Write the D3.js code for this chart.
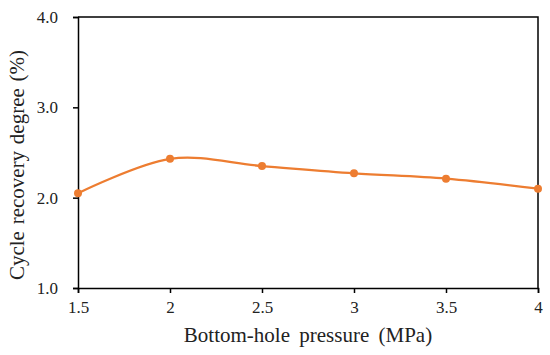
<!DOCTYPE html>
<html>
<head>
<meta charset="utf-8">
<script src="https://cdn.jsdelivr.net/npm/d3@7"></script>
</head>
<body style="margin:0">
<svg id="chart" width="550" height="355"></svg>
<script>
// pressure (MPa) and recovery degree (%)
const pressures = [1.5, 2, 2.5, 3, 3.5, 4]
const recovery = [2.05, 2.43, 2.35, 2.27, 2.21, 2.1]
const xTicks = [1.5, 2, 2.5, 3, 3.5, 4]
const yTicks = [1.0, 2.0, 3.0, 4.0]

const orange = "#ed7d31"
const fontName = "Liberation Serif"
const margin = { left: 78, right: 12, top: 17, bottom: 67 }
const width = 550, height = 355

const svg = d3.select("#chart")

const x = d3.scaleLinear().domain([1.5, 4]).range([margin.left, width - margin.right])
const y = d3.scaleLinear().domain([1, 4]).range([height - margin.bottom, margin.top])

// frame: the top and right edges of the plot box
svg.append("path")
	.attr("d", `M${x(1.5)},${y(4)}H${x(4)}V${y(1)}`)
	.attr("fill", "none")
	.attr("stroke", "#000")
	.attr("stroke-width", 1.5)

const xAxis = svg.append("g")
	.attr("transform", `translate(0,${y(1)})`)
	.call(d3.axisBottom(x).tickValues(xTicks).tickFormat(d3.format("")).tickSize(5).tickPadding(8))

const yAxis = svg.append("g")
	.attr("transform", `translate(${x(1.5)},0)`)
	.call(d3.axisLeft(y).tickValues(yTicks).tickFormat(d3.format(".1f")).tickSize(5).tickPadding(15))

for (const ax of [xAxis, yAxis]) {
	ax.attr("font-family", fontName).attr("font-size", 17)
	ax.select(".domain").attr("stroke", "#000").attr("stroke-width", 1.5)
	ax.selectAll(".tick line").attr("stroke", "#000").attr("stroke-width", 1.5)
	ax.selectAll(".tick text").attr("fill", "#222")
}

// smoothed line, like the spreadsheet one
const line = d3.line()
	.x((d, i) => x(pressures[i]))
	.y(d => y(d))
	.curve(d3.curveCatmullRom.alpha(0))

svg.append("path")
	.datum(recovery)
	.attr("d", line)
	.attr("fill", "none")
	.attr("stroke", orange)
	.attr("stroke-width", 2.25)

svg.selectAll(".dot")
	.data(recovery)
	.enter()
	.append("circle")
	.attr("class", "dot")
	.attr("cx", (d, i) => x(pressures[i]))
	.attr("cy", d => y(d))
	.attr("r", 4)
	.attr("fill", orange)

svg.append("text")
	.attr("x", (x(1.5) + x(4)) / 2)
	.attr("y", 342)
	.attr("text-anchor", "middle")
	.attr("fill", "#222")
	.attr("font-family", fontName)
	.attr("font-size", 21)
	.attr("word-spacing", 4)
	.text("Bottom-hole pressure (MPa)")

svg.append("text")
	.attr("transform", `translate(24,165) rotate(-90)`)
	.attr("text-anchor", "middle")
	.attr("fill", "#222")
	.attr("font-family", fontName)
	.attr("font-size", 21)
	.attr("word-spacing", 1.5)
	.text("Cycle recovery degree (%)")
</script>
</body>
</html>
